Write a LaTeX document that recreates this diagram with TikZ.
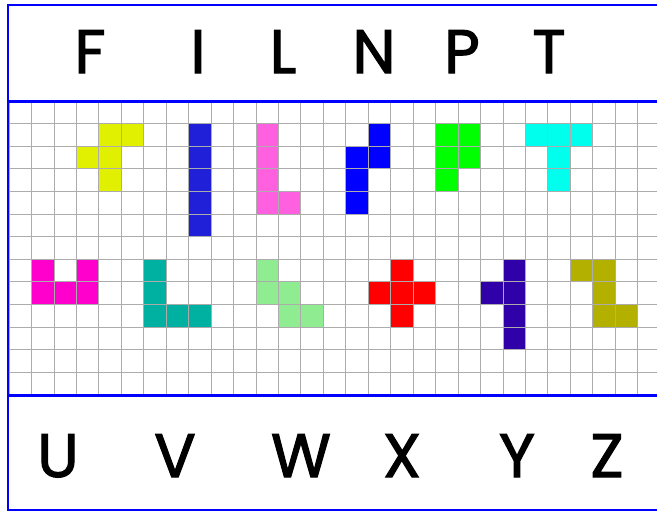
\documentclass[tikz,border=0pt]{standalone}
\usepackage{fontspec}
\setmainfont{Poppins}
\newfontfamily\namefont{Poppins}[FakeBold=2]
\usetikzlibrary{positioning}

\definecolor{pieceF}{RGB}{224,240,0}
\definecolor{pieceI}{RGB}{32,32,216}
\definecolor{pieceL}{RGB}{255,96,224}
\definecolor{pieceN}{RGB}{0,0,255}
\definecolor{pieceP}{RGB}{0,255,0}
\definecolor{pieceT}{RGB}{0,255,236}
\definecolor{pieceU}{RGB}{255,0,204}
\definecolor{pieceV}{RGB}{0,176,160}
\definecolor{pieceW}{RGB}{144,236,144}
\definecolor{pieceX}{RGB}{255,0,0}
\definecolor{pieceY}{RGB}{48,0,168}
\definecolor{pieceZ}{RGB}{180,176,0}

\begin{document}
\begin{tikzpicture}[
    x=0.75pt,y=-0.75pt,
    letter/.style={font=\namefont\fontsize{46}{46}\selectfont,anchor=base,inner sep=0pt},
    frame/.style={draw=blue,line width=1.5pt},
    band/.style={draw=blue,line width=2.8pt},
    gridline/.style={draw=gray!65,line width=0.6pt},
]
\clip (0,0) rectangle (657,511);

% ---- squared paper with the twelve pieces ----
\begin{scope}[shift={(9,101)},x=16.84pt,y=-16.95pt]
  \foreach \c/\r in {4/1,5/1,3/2,4/2,4/3}     \fill[pieceF] (\c,\r) rectangle ++(1,1);
  \foreach \c/\r in {8/1,8/2,8/3,8/4,8/5}     \fill[pieceI] (\c,\r) rectangle ++(1,1);
  \foreach \c/\r in {11/1,11/2,11/3,11/4,12/4} \fill[pieceL] (\c,\r) rectangle ++(1,1);
  \foreach \c/\r in {16/1,16/2,15/2,15/3,15/4} \fill[pieceN] (\c,\r) rectangle ++(1,1);
  \foreach \c/\r in {19/1,20/1,19/2,20/2,19/3} \fill[pieceP] (\c,\r) rectangle ++(1,1);
  \foreach \c/\r in {23/1,24/1,25/1,24/2,24/3} \fill[pieceT] (\c,\r) rectangle ++(1,1);
  \foreach \c/\r in {1/7,3/7,1/8,2/8,3/8}     \fill[pieceU] (\c,\r) rectangle ++(1,1);
  \foreach \c/\r in {6/7,6/8,6/9,7/9,8/9}     \fill[pieceV] (\c,\r) rectangle ++(1,1);
  \foreach \c/\r in {11/7,11/8,12/8,12/9,13/9} \fill[pieceW] (\c,\r) rectangle ++(1,1);
  \foreach \c/\r in {17/7,16/8,17/8,18/8,17/9} \fill[pieceX] (\c,\r) rectangle ++(1,1);
  \foreach \c/\r in {22/7,21/8,22/8,22/9,22/10} \fill[pieceY] (\c,\r) rectangle ++(1,1);
  \foreach \c/\r in {25/7,26/7,26/8,26/9,27/9} \fill[pieceZ] (\c,\r) rectangle ++(1,1);
  \foreach \c in {0,...,29} \draw[gridline] (\c,0) -- (\c,13);
  \foreach \r in {0,...,13} \draw[gridline] (0,\r) -- (29,\r);
\end{scope}

% ---- blue frame and bands ----
\draw[frame] (660,4.5) -- (8,4.5) -- (8,509.5) -- (660,509.5);
\draw[band] (8,101.5) -- (660,101.5);
\draw[band] (8,395.5) -- (660,395.5);

% ---- piece names ----
\node[letter] (nameF) at (90,73)  {F};
\node[letter] (nameI) at (198,73) {I};
\node[letter] (nameL) at (283,73) {L};
\node[letter] (nameN) at (374,73) {N};
\node[letter] (nameP) at (462,73) {P};
\node[letter] (nameT) at (549,73) {T};
\node[letter] (nameU) at (58,477)  {U};
\node[letter] (nameV) at (175,477) {V};
\node[letter] (nameW) at (301,477) {W};
\node[letter] (nameX) at (402,477) {X};
\node[letter] (nameY) at (517,477) {Y};
\node[letter] (nameZ) at (607,477) {Z};

\end{tikzpicture}
\end{document}
